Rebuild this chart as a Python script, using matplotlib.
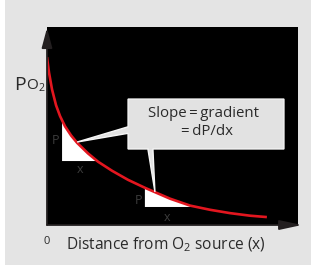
import numpy as np
import matplotlib.pyplot as plt
from matplotlib.patches import Polygon, Rectangle, FancyArrowPatch

plt.rcParams['font.family'] = ['Open Sans', 'DejaVu Sans']
plt.rcParams['mathtext.fontset'] = 'custom'
plt.rcParams['mathtext.rm'] = 'Open Sans'
plt.rcParams['mathtext.it'] = 'Open Sans:italic'

# Po2 falling off with distance from the O2 source (arbitrary units)
dist = np.array([0, 0.08, 0.20, 0.36, 0.52, 0.72, 0.96, 1.20, 1.63, 2.03,
                 2.59, 3.23, 3.90, 4.30, 4.90, 5.70, 6.49, 7.29, 8.09, 8.76])
po2 = np.array([8.48, 7.70, 6.85, 6.05, 5.50, 4.98, 4.52, 4.15, 3.62, 3.20,
                2.74, 2.28, 1.88, 1.66, 1.33, 0.98, 0.77, 0.60, 0.47, 0.40])

# the two slope triangles: left edge and base level
tri_left = [0.60, 3.90]
tri_base = [3.23, 0.91]
tri_p_labels = [(0.32, 4.29), (3.63, 1.26)]
tri_x_labels = [(1.31, 2.78), (4.78, 0.40)]

text_col = '#2a2a2a'
fig = plt.figure(figsize=(3.11, 2.65), dpi=100, facecolor='#e4e4e4')
fig.patches.append(Rectangle((0, 0), 5 / 311, 1, transform=fig.transFigure,
                             facecolor='white', edgecolor='none', zorder=0))

ax = fig.add_axes([47 / 311, 40 / 265, 251 / 311, 198 / 265])
ax.set_facecolor('black')
ax.set_xlim(0, 10)
ax.set_ylim(0, 10)
ax.set_xticks([])
ax.set_yticks([])
for s in ax.spines.values():
    s.set_visible(False)

# white slope triangles under the curve
for x0, b in zip(tri_left, tri_base):
    m = (dist > x0) & (po2 > b)
    x_end = np.interp(b, po2[::-1], dist[::-1])
    xs = np.concatenate([[x0], dist[m], [x_end, x0]])
    ys = np.concatenate([[np.interp(x0, dist, po2)], po2[m], [b, b]])
    ax.add_patch(Polygon(np.column_stack([xs, ys]), closed=True,
                         facecolor='white', edgecolor='none', zorder=2))

for (px, py), (qx, qy) in zip(tri_p_labels, tri_x_labels):
    ax.text(px, py, 'P', color='#3c3c3c', fontsize=9, ha='center', va='center', zorder=3)
    ax.text(qx, qy, 'x', color='#3c3c3c', fontsize=9, ha='center', va='center', zorder=3)

ax.plot(dist, po2, color='#e3161f', lw=1.9, solid_capstyle='butt', zorder=4)

# callout box with two pointers
box = [(3.23, 6.36), (9.44, 6.36), (9.44, 3.84), (4.22, 3.84), (4.30, 1.67),
       (4.02, 3.84), (3.23, 3.84), (3.23, 4.63), (1.20, 4.19), (3.23, 4.96)]
ax.add_patch(Polygon(box, closed=True, facecolor='#e2e2e2', edgecolor='#f6f6f6',
                     lw=1, joinstyle='miter', zorder=5))
ax.text(6.22, 5.61, 'Slope\u2009=\u2009gradient', fontsize=10.8, color=text_col,
        ha='center', va='center', zorder=6)
ax.text(6.37, 4.70, '=\u2009dP/dx', fontsize=10.8, color=text_col,
        ha='center', va='center', zorder=6)

# axes with arrow heads
ax.add_patch(FancyArrowPatch((0, 0), (0, 0.995), transform=ax.transAxes,
                             arrowstyle='-|>,head_length=12,head_width=3.2',
                             mutation_scale=1, shrinkA=0, shrinkB=0, lw=1.3,
                             color='#231f20', clip_on=False, zorder=7))
ax.add_patch(FancyArrowPatch((0, 0), (1.016, 0), transform=ax.transAxes,
                             arrowstyle='-|>,head_length=13.5,head_width=2.9',
                             mutation_scale=1, shrinkA=0, shrinkB=0, lw=1.3,
                             color='#231f20', clip_on=False, zorder=7))

fig.text(14 / 311, 1 - 90 / 265, 'P', fontsize=14, color=text_col, va='baseline')
fig.text(26 / 311, 1 - 90 / 265, r'O$_2$', fontsize=11, color=text_col, va='baseline')
fig.text(47 / 311, 1 - 241 / 265, '0', fontsize=8, color=text_col, ha='center', va='center')
fig.text(166 / 311, 1 - 245 / 265, r'Distance from O$_2$ source (x)', fontsize=11.2,
         color=text_col, ha='center', va='center')

fig.savefig('out.png', dpi=100, facecolor=fig.get_facecolor())
